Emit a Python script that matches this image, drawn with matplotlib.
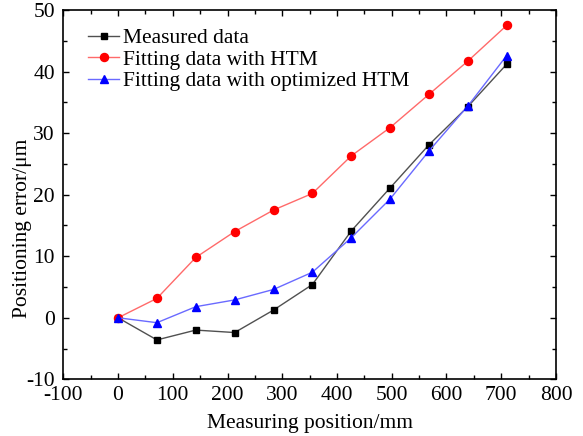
import matplotlib.pyplot as plt
from matplotlib.ticker import MultipleLocator

plt.rcParams['font.family'] = ['Liberation Serif', 'DejaVu Serif']
plt.rcParams['axes.unicode_minus'] = False

# measuring positions (mm) and positioning errors (um)
position = [0, 71, 142, 213, 284, 355, 426, 497, 568, 639, 710]
measured = [0.0, -3.6, -2.0, -2.4, 1.25, 5.4, 14.1, 21.1, 28.1, 34.3, 41.2]
fit_htm = [0.0, 3.15, 9.8, 14.0, 17.5, 20.2, 26.3, 30.9, 36.3, 41.7, 47.5]
fit_opt_htm = [0.0, -0.8, 1.8, 2.9, 4.6, 7.4, 13.0, 19.3, 27.1, 34.4, 42.6]

fig = plt.figure(figsize=(5.83, 4.36), dpi=100)
ax = fig.add_axes([0.1086, 0.130, 0.845, 0.847])

ax.plot(position, measured, color='#505050', lw=1.0, marker='s', ms=4.8,
        mfc='black', mec='black', label='Measured data')
ax.plot(position, fit_htm, color='#ff6a6a', lw=1.0, marker='o', ms=5.8,
        mfc='red', mec='red', label='Fitting data with HTM')
ax.plot(position, fit_opt_htm, color='#6a6aff', lw=1.0, marker='^', ms=6.2,
        mfc='blue', mec='blue', label='Fitting data with optimized HTM')

ax.set_xlim(-100, 800)
ax.set_ylim(-10, 50)
ax.xaxis.set_major_locator(MultipleLocator(100))
ax.xaxis.set_minor_locator(MultipleLocator(50))
ax.yaxis.set_major_locator(MultipleLocator(10))
ax.yaxis.set_minor_locator(MultipleLocator(5))
ax.tick_params(which='both', direction='in', top=True, right=True,
               labelsize=15.5, width=1.0)
ax.tick_params(which='major', length=4)
ax.tick_params(which='minor', length=3)
ax.tick_params(axis='x', pad=5)
ax.tick_params(axis='y', pad=6)
for s in ax.spines.values():
    s.set_linewidth(1.2)

ax.set_xlabel('Measuring position/mm', fontsize=15.5, labelpad=6)
ax.set_ylabel('Positioning error/μm', fontsize=15.5)
ax.yaxis.set_label_coords(-0.064, 0.41)

ax.legend(loc='upper left', bbox_to_anchor=(0.05, 0.951), frameon=False,
          fontsize=15.5, handlelength=1.45, handletextpad=0.2,
          labelspacing=0.07, borderaxespad=0.0, borderpad=0.0)

fig.savefig('out.png', dpi=100)
